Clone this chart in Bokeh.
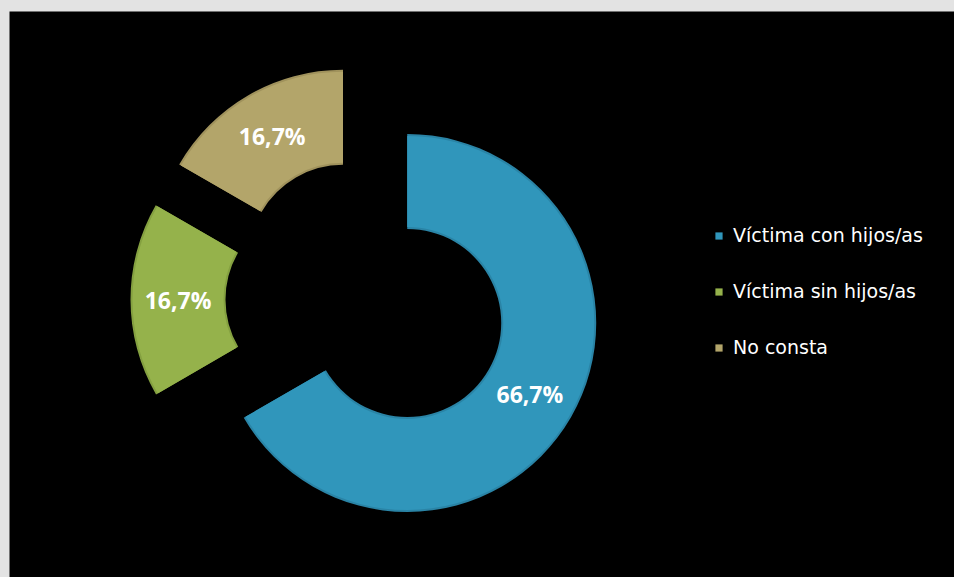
import math
import re
from bokeh.plotting import figure
from bokeh.models import ColumnDataSource, Range1d, Legend, LegendItem
from bokeh.core.properties import value
from bokeh.embed import file_html
from bokeh.resources import INLINE

# ---- data ----
categories = ["Víctima con hijos/as", "Víctima sin hijos/as", "No consta"]
shares = [66.7, 16.7, 16.7]
colors = ["#3096bb", "#95b24b", "#b3a56a"]
edge_colors = ["#2a84a6", "#84a040", "#a0925c"]

# ---- layout (pixels, 1 data unit = 1 px) ----
FW, FH = 945, 566          # frame size
CX, CY = 357, 278          # donut centre
R_OUT, R_IN = 189, 94
EXPLODE = 47

total = sum(shares)
starts, ends, xs, ys, lx, ly, labels = [], [], [], [], [], [], []
cum = 0.0
for v in shares:
    t0 = cum / total * 2 * math.pi          # clockwise from top
    cum += v
    t1 = cum / total * 2 * math.pi
    a_start = math.pi / 2 - t1               # bokeh: anticlockwise from +x
    a_end = math.pi / 2 - t0
    mid = (a_start + a_end) / 2
    ox = CX + EXPLODE * math.cos(mid)
    oy = CY + EXPLODE * math.sin(mid)
    starts.append(a_start); ends.append(a_end)
    xs.append(ox); ys.append(oy)
    rm = (R_OUT + R_IN) / 2
    lx.append(ox + rm * math.cos(mid)); ly.append(oy + rm * math.sin(mid))
    labels.append(f"{v:.1f}".replace(".", ",") + "%")

src = ColumnDataSource(dict(x=xs, y=ys, start=starts, end=ends, color=colors,
                            edge=edge_colors, lx=lx, ly=ly, label=labels))

p = figure(width=FW, height=FH, output_backend="svg", toolbar_location=None,
           x_range=Range1d(0, FW), y_range=Range1d(0, FH),
           min_border_left=0, min_border_top=0, min_border_right=0, min_border_bottom=0)
p.border_fill_color = "black"
p.background_fill_color = "black"
p.outline_line_color = None
p.axis.visible = False
p.grid.visible = False

# subtle rim (bevel hint)
p.annular_wedge(x="x", y="y", inner_radius=R_IN, outer_radius=R_OUT,
                start_angle="start", end_angle="end", fill_color="edge",
                line_color=None, source=src)
# main fill, slightly inset
r = p.annular_wedge(x="x", y="y", inner_radius=R_IN + 2, outer_radius=R_OUT - 2,
                    start_angle="start", end_angle="end", fill_color="color",
                    line_color=None, source=src)

p.text(x="lx", y="ly", text="label", source=src, text_color="white",
       text_font=value("Open Sans"), text_font_size="23px", text_font_style="bold",
       text_align="center", text_baseline="middle")

legend = Legend(items=[LegendItem(label=categories[i], renderers=[r], index=i) for i in range(3)],
                location=(705, 219), padding=0, margin=0, spacing=34,
                glyph_width=9, glyph_height=9, label_height=20, label_standoff=10,
                label_text_color="white", label_text_font="DejaVu Sans",
                label_text_font_size="19px", background_fill_alpha=0,
                border_line_alpha=0)
p.add_layout(legend)

html = file_html(p, INLINE)
style = ("<style>html{overflow:hidden !important;background:#e3e3e3 !important;}"
         "body{overflow:hidden !important;background:#e3e3e3 !important;"
         "padding:11px 0 0 9px !important;margin:0 !important;}</style>")
html, n = re.subn(r"</head\s*>", style + "</head>", html, count=1, flags=re.I)
open("out.html", "w").write(html)
